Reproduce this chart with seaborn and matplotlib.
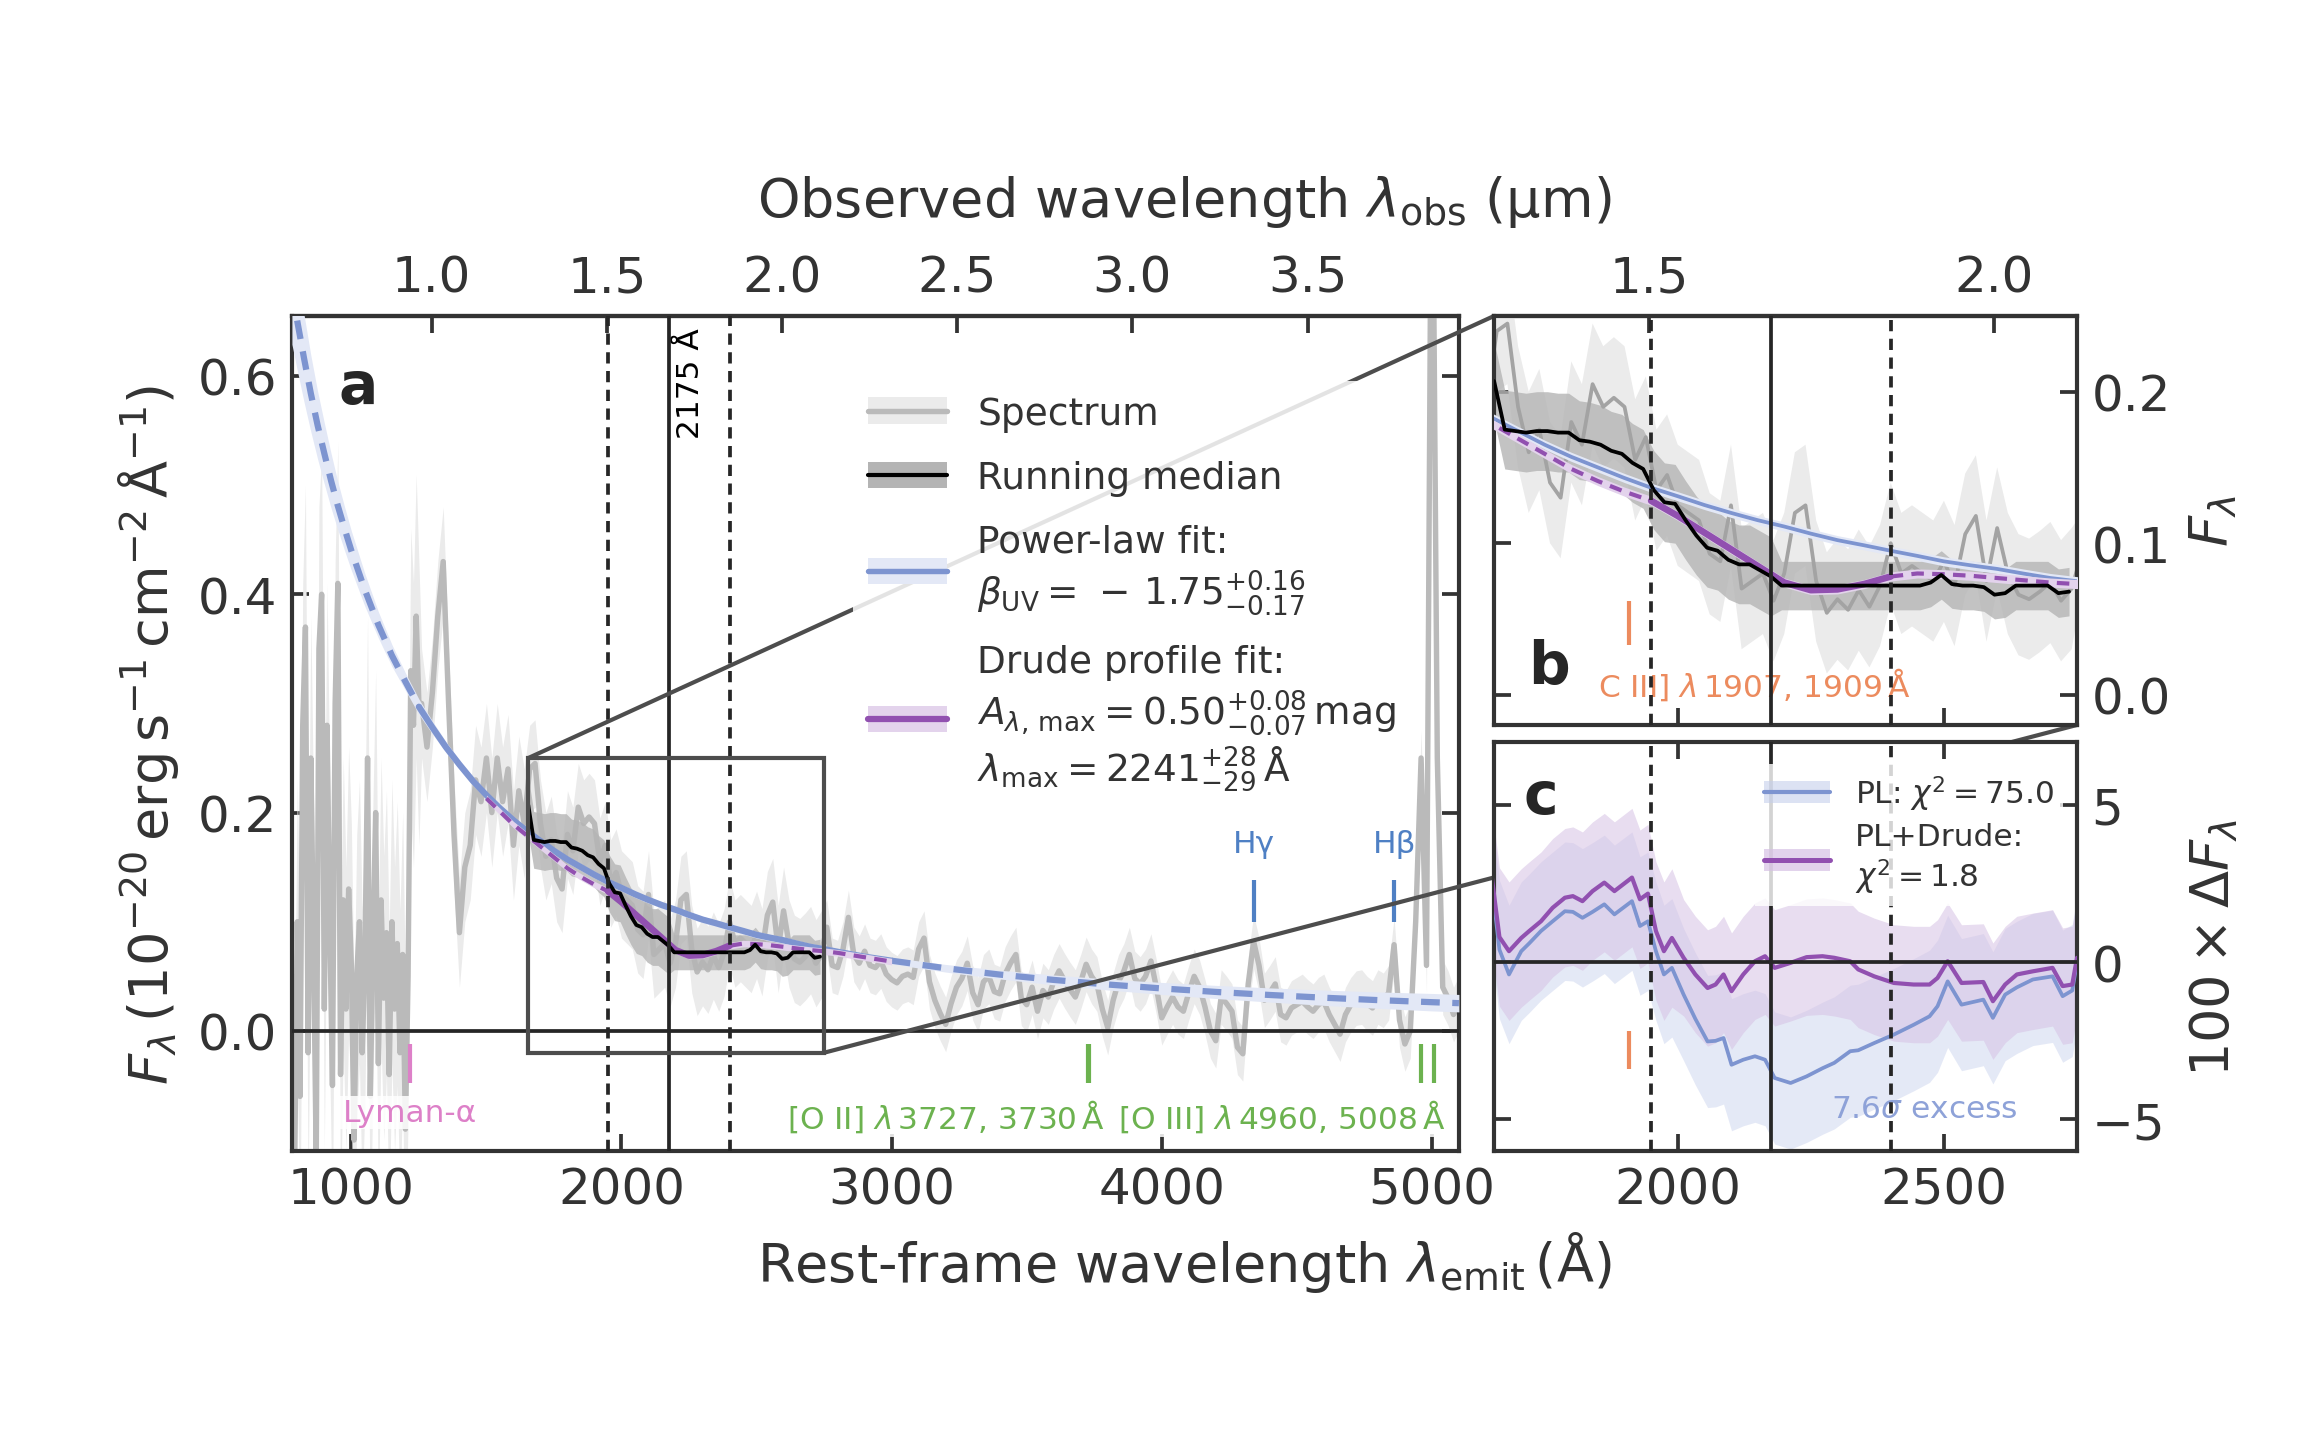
import numpy as np
import matplotlib
matplotlib.use("Agg")
import matplotlib.pyplot as plt
import seaborn as sns
from matplotlib.lines import Line2D
from matplotlib.patches import ConnectionPatch, Patch, Rectangle

Z = 6.71  # redshift used for the observed-frame axis

# --- spectrum, rest frame (Å) and flux (1e-20 erg s-1 cm-2 Å-1)
LYA_WL = np.arange(780, 1251, 10)
LYA_FLUX = [0.05, -0.13, 0.10, -0.06, 0.28, 0.37, -0.02, 0.25, 0.08, -0.12,
            0.35, 0.40, 0.02, 0.28, 0.10, -0.05, 0.30, 0.41, -0.04, 0.12,
            0.02, 0.13, 0.06, -0.10, 0.05, 0.10, -0.02, 0.06, 0.25, -0.06,
            0.08, 0.20, -0.03, 0.12, 0.03, 0.09, -0.04, 0.10, 0.02, 0.08,
            -0.02, 0.07, -0.09, 0.05, 0.33, 0.28, 0.38, 0.30]
LYA_ERR = [0.13] * 48

SPEC_WL = np.arange(1260, 5101, 20)
SPEC_FLUX = [
    # 1260-1640
    0.30, 0.26, 0.31, 0.38, 0.43, 0.30, 0.18, 0.09, 0.15, 0.17,
    0.23, 0.21, 0.25, 0.20, 0.25, 0.21, 0.24, 0.17, 0.22, 0.19,
    # 1660-2740
    0.24, 0.245, 0.19, 0.16, 0.175, 0.14, 0.13, 0.18, 0.165, 0.205,
    0.19, 0.196, 0.19, 0.155, 0.17, 0.135, 0.145, 0.125, 0.12, 0.115,
    0.093, 0.088, 0.125, 0.07, 0.075, 0.08, 0.062, 0.08, 0.12, 0.125,
    0.075, 0.054, 0.063, 0.056, 0.069, 0.058, 0.072, 0.10, 0.08, 0.085,
    0.08, 0.075, 0.088, 0.072, 0.106, 0.118, 0.075, 0.11, 0.08, 0.066,
    0.063, 0.068, 0.074, 0.062, 0.07,
    # 2760-5100
    0.095, 0.06, 0.058, 0.075, 0.104, 0.07, 0.062, 0.073, 0.06, 0.058,
    0.064, 0.052, 0.047, 0.044, 0.05, 0.052, 0.049, 0.075, 0.085, 0.045,
    0.028, 0.016, 0.006, 0.025, 0.04, 0.048, 0.062, 0.035, 0.024, 0.045,
    0.05, 0.036, 0.034, 0.052, 0.062, 0.07, 0.03, 0.024, 0.04, 0.018,
    0.037, 0.031, 0.045, 0.055, 0.046, 0.038, 0.031, 0.045, 0.061, 0.05,
    0.043, 0.02, 0.003, 0.028, 0.045, 0.055, 0.07, 0.048, 0.043, 0.05,
    0.064, 0.04, 0.012, 0.022, 0.031, 0.022, 0.018, 0.035, 0.05, 0.04,
    0.022, 0.0, -0.009, 0.031, 0.025, 0.018, -0.015, -0.021, 0.043, 0.082,
    0.06, 0.028, 0.035, 0.043, 0.015, 0.012, 0.021, 0.024, 0.027, 0.022,
    0.018, 0.024, 0.027, 0.015, 0.006, -0.003, 0.015, 0.024, 0.03, 0.031,
    0.025, 0.021, 0.031, 0.028, 0.035, 0.079, 0.01, -0.012, 0.0, 0.10,
    0.25, 0.06, 0.90, 0.25, 0.04, 0.03, 0.015, 0.025,
]
SPEC_ERR = [0.05] * 20 + [0.04] * 55 + [0.025] * 118

# running median of the spectrum over the bump region
MED_WL = np.arange(1655, 2736, 20)
MED_FLUX = [
    0.207, 0.175, 0.174, 0.173, 0.174, 0.174, 0.173, 0.173, 0.168, 0.167,
    0.165, 0.161, 0.159, 0.153, 0.149, 0.135, 0.127, 0.126, 0.115, 0.105,
    0.097, 0.095, 0.089, 0.086, 0.086, 0.082, 0.078, 0.072, 0.072, 0.072,
    0.072, 0.072, 0.072, 0.072, 0.072, 0.072, 0.072, 0.072, 0.072, 0.072,
    0.072, 0.074, 0.079, 0.073, 0.072, 0.072, 0.071, 0.066, 0.067, 0.072,
    0.072, 0.072, 0.072, 0.067, 0.068,
]
MED_ERR = [0.026] * 27 + [0.016] * 28

# power-law continuum fit
PL_WL = np.array([780, 800, 825, 850, 875, 900, 925, 950, 975, 1000,
                  1050, 1100, 1150, 1200, 1250, 1300, 1350, 1400, 1450, 1500,
                  1550, 1600, 1650, 1700, 1750, 1800, 1850, 1900, 1950, 2000,
                  2050, 2100, 2150, 2200, 2250, 2300, 2350, 2400, 2450, 2500,
                  2550, 2600, 2650, 2700, 2750, 2800, 2900, 3000, 3200, 3400,
                  3600, 3800, 4000, 4200, 4400, 4600, 4800, 5000, 5100])
PL_FLUX = [0.679, 0.650, 0.616, 0.584, 0.555, 0.529, 0.504, 0.481, 0.460, 0.440,
           0.404, 0.372, 0.344, 0.320, 0.297, 0.278, 0.260, 0.244, 0.229, 0.216,
           0.204, 0.193, 0.183, 0.174, 0.165, 0.157, 0.150, 0.143, 0.1366, 0.131,
           0.1252, 0.120, 0.1152, 0.111, 0.1063, 0.102, 0.0986, 0.095, 0.0916, 0.088,
           0.0854, 0.083, 0.0799, 0.077, 0.0749, 0.0725, 0.068, 0.0643, 0.0574, 0.0516,
           0.0467, 0.0425, 0.0389, 0.0357, 0.0329, 0.0304, 0.0282, 0.0263, 0.0254]
PL_ERR = ([0.050, 0.045, 0.040, 0.035, 0.031, 0.028, 0.025, 0.022, 0.020, 0.018,
           0.015, 0.012, 0.010, 0.008, 0.007, 0.006, 0.005, 0.0045, 0.004, 0.0035]
          + [0.003] * 28
          + [0.0035, 0.004, 0.0045, 0.005, 0.0055, 0.006, 0.0065, 0.007, 0.0075, 0.008, 0.008])
PL_FIT_RANGE = (1250, 3000)

# power law x Drude bump fit
DRUDE_WL = np.arange(1500, 3001, 50)
DRUDE_FLUX = [0.213, 0.201, 0.189, 0.179, 0.169, 0.159, 0.149, 0.141, 0.134, 0.128,
              0.118, 0.107, 0.096, 0.085, 0.074, 0.069, 0.0695, 0.073, 0.078, 0.080,
              0.0795, 0.0785, 0.077, 0.0755, 0.074, 0.073, 0.0715, 0.0695, 0.0675, 0.0655,
              0.0635]
DRUDE_ERR = [0.003] * 31

# residuals (100 x (median - model))
RES_WL = [1650, 1665, 1683, 1706, 1721, 1743, 1765, 1788, 1803, 1821,
          1840, 1862, 1881, 1914, 1929, 1944, 1959, 1974, 1989, 2011,
          2033, 2056, 2071, 2086, 2101, 2123, 2145, 2164, 2182, 2212,
          2242, 2272, 2294, 2324, 2339, 2369, 2406, 2443, 2473, 2488,
          2507, 2533, 2574, 2592, 2615, 2637, 2667, 2704, 2723, 2741, 2750]
RES_DRUDE = [2.8, 0.8, 0.35, 0.77, 0.99, 1.3, 1.73, 2.05, 2.1, 1.94,
             2.26, 2.53, 2.26, 2.69, 2.0, 2.18, 0.99, 0.35, 0.77, 0.14,
             -0.39, -0.82, -0.71, -0.39, -0.92, -0.39, 0.03, 0.19, -0.18, -0.02,
             0.16, 0.19, 0.14, 0.03, -0.23, -0.45, -0.66, -0.71, -0.71, -0.5,
             0.03, -0.66, -0.63, -1.24, -0.71, -0.39, -0.29, -0.18, -0.76, -0.71, 0.14]
RES_PL = [2.6, 0.4, -0.39, 0.35, 0.6, 0.99, 1.3, 1.62, 1.6, 1.41,
          1.6, 1.84, 1.52, 1.94, 1.15, 1.3, 0.35, -0.39, -0.18, -1.03,
          -1.8, -2.52, -2.5, -2.41, -3.26, -3.1, -2.99, -3.1, -3.68, -3.84,
          -3.63, -3.37, -3.2, -2.83, -2.8, -2.57, -2.3, -1.99, -1.72, -1.4,
          -0.61, -1.35, -1.19, -1.77, -1.03, -0.8, -0.55, -0.45, -1.08, -0.9, 0.0]
RES_DRUDE_ERR = [2.2] * 19 + [1.85] * 32
RES_PL_ERR = [2.2] * 19 + [2.1] * 32

BUMP_CENTRE = 2175
BUMP_EDGES = [1950, 2400]
ZOOM_X = (1655, 2750)
ZOOM_Y = (-0.02, 0.25)

LYA = [1216]
OII = [3727, 3730]
OIII = [4960, 5008]
BALMER = [4341, 4861]
CIII = [1908]

# colours
SPEC_C, SPEC_C_B, SPEC_BAND = "#bababa", "#a3a3a3", "#ebebeb"
MED_BAND = "#b4b4b4"
PL_C, PL_BAND = "#7d94d0", "#e3e8f6"
DR_C, DR_BAND = "#9150b0", "#e3d3ec"
ORANGE, GREEN, PINK = "#ec8b5e", "#6cb24f", "#dd80c8"
H_BLUE, EXC_BLUE = "#4f80c4", "#8ea2d8"
INK = "0.15"
LAB_FS = 7.5

sns.set_style("ticks")
plt.rcParams.update({
    "font.family": ["DejaVu Sans"],
    "mathtext.fontset": "dejavusans",
    "font.size": 12,
    "axes.linewidth": 1.0,
    "axes.edgecolor": "0.2",
    "text.color": "0.2",
    "axes.labelcolor": "0.2",
    "xtick.color": "0.2",
    "ytick.color": "0.2",
    "xtick.direction": "in",
    "ytick.direction": "in",
    "xtick.major.size": 4,
    "ytick.major.size": 4,
    "xtick.major.width": 0.9,
    "ytick.major.width": 0.9,
    "xtick.labelsize": 12,
    "ytick.labelsize": 12,
    "legend.fontsize": 9,
})


def to_obs(w):
    return w * (1 + Z) / 1e4


def to_rest(o):
    return o * 1e4 / (1 + Z)


def line(ax, x, y, **kw):
    sns.lineplot(x=np.asarray(x, float), y=np.asarray(y, float), ax=ax,
                 estimator=None, sort=False, legend=False, **kw)


def band(ax, x, y, err, color, **kw):
    y, err = np.asarray(y, float), np.asarray(err, float)
    ax.fill_between(x, y - err, y + err, color=color, lw=0, **kw)


spec_wl = np.concatenate([LYA_WL, SPEC_WL])
spec_fl = np.array(LYA_FLUX + SPEC_FLUX)
spec_err = np.array(LYA_ERR + SPEC_ERR)
pl_fl = np.array(PL_FLUX)
dr_fl = np.array(DRUDE_FLUX)


def draw_models(ax, zoom):
    lw_pl = 0.9 if zoom else 1.5
    band(ax, PL_WL, PL_FLUX, PL_ERR, PL_BAND, zorder=3)
    lo, hi = PL_FIT_RANGE
    m_in = (PL_WL >= lo) & (PL_WL <= hi)
    line(ax, PL_WL[m_in], pl_fl[m_in], color=PL_C, lw=lw_pl, zorder=3.2)
    for m in (PL_WL <= lo, PL_WL >= hi):
        line(ax, PL_WL[m], pl_fl[m], color=PL_C, lw=1.5,
             linestyle=(0, (3, 2)), zorder=3.2)
    band(ax, DRUDE_WL, DRUDE_FLUX, DRUDE_ERR, DR_BAND, zorder=3.3)
    e0, e1 = BUMP_EDGES
    m_in = (DRUDE_WL >= e0) & (DRUDE_WL <= e1)
    line(ax, DRUDE_WL[m_in], dr_fl[m_in], color=DR_C, lw=1.6, zorder=3.5)
    for m in (DRUDE_WL <= e0, DRUDE_WL >= e1):
        line(ax, DRUDE_WL[m], dr_fl[m], color=DR_C, lw=1.0,
             linestyle=(0, (3, 2)), zorder=3.5)


def draw_bump_lines(ax):
    for w in BUMP_EDGES:
        ax.axvline(w, color=INK, lw=0.9, linestyle=(0, (3, 2)), zorder=4.5)
    ax.axvline(BUMP_CENTRE, color=INK, lw=0.9, zorder=4.5)


fig = plt.figure(figsize=(2315 / 300, 1431 / 300), dpi=300)
ax_a = fig.add_axes([0.1261, 0.1950, 0.5041, 0.5835])
ax_b = fig.add_axes([0.6454, 0.4927, 0.2518, 0.2858])
ax_c = fig.add_axes([0.6454, 0.1950, 0.2518, 0.2858])

# ---------------- panel a
band(ax_a, spec_wl, spec_fl, spec_err, SPEC_BAND, zorder=1)
line(ax_a, spec_wl, spec_fl, color=SPEC_C, lw=1.3, zorder=2)
band(ax_a, MED_WL, MED_FLUX, MED_ERR, MED_BAND, alpha=0.8, zorder=2.2)
draw_models(ax_a, zoom=False)
line(ax_a, MED_WL, MED_FLUX, color="k", lw=0.9, zorder=3.8)
draw_bump_lines(ax_a)
ax_a.axhline(0, color=INK, lw=0.9, zorder=4.5)
ax_a.add_patch(Rectangle((ZOOM_X[0], ZOOM_Y[0]), ZOOM_X[1] - ZOOM_X[0],
                         ZOOM_Y[1] - ZOOM_Y[0], fill=False, ec="0.3", lw=1.0, zorder=4.6))
ax_a.text(BUMP_CENTRE + 25, 0.645, "2175 Å", rotation=90, ha="left", va="top",
          fontsize=LAB_FS, color="k")

lab_box = dict(fc="white", ec="none", alpha=0.85, pad=0.5)
ax_a.vlines(LYA, -0.012, -0.048, color=PINK, lw=1.0, zorder=4)
ax_a.text(LYA[0], -0.075, "Lyman-α", color=PINK, fontsize=LAB_FS, ha="center",
          va="center", bbox=lab_box, zorder=4)
ax_a.vlines(OII + OIII, -0.012, -0.048, color=GREEN, lw=1.0, zorder=4)
ax_a.text(3790, -0.078, r"[O II] $\lambda\,$3727, 3730$\,$Å", color=GREEN,
          fontsize=LAB_FS, ha="right", va="center", bbox=lab_box, zorder=4)
ax_a.text(5050, -0.078, r"[O III] $\lambda\,$4960, 5008$\,$Å", color=GREEN,
          fontsize=LAB_FS, ha="right", va="center", bbox=lab_box, zorder=4)
ax_a.vlines(BALMER, 0.100, 0.138, color=H_BLUE, lw=1.0, zorder=4)
for w, name in zip(BALMER, ["Hγ", "Hβ"]):
    ax_a.text(w, 0.172, name, color=H_BLUE, fontsize=LAB_FS, ha="center", va="center")

ax_a.set_xlim(780, 5100)
ax_a.set_ylim(-0.11, 0.655)
ax_a.set_xticks([1000, 2000, 3000, 4000, 5000])
ax_a.set_yticks([0.0, 0.2, 0.4, 0.6])
ax_a.tick_params(right=True, top=False)
ax_a.set_ylabel(r"$F_\lambda\,(10^{-20}\,\mathrm{erg\,s^{-1}\,cm^{-2}\,\AA^{-1}})$", fontsize=13)
ax_a.set_xlabel("")
sec_a = ax_a.secondary_xaxis("top", functions=(to_obs, to_rest))
sec_a.set_xticks([1.0, 1.5, 2.0, 2.5, 3.0, 3.5])
sec_a.tick_params(direction="in", length=4)
ax_a.text(0.04, 0.915, "a", transform=ax_a.transAxes, fontsize=14,
          fontweight="bold", ha="left", va="center", color="0.15")

handles = [
    (Patch(fc=SPEC_BAND, ec="none"), Line2D([], [], color=SPEC_C, lw=1.3)),
    (Patch(fc=MED_BAND, ec="none"), Line2D([], [], color="k", lw=1.0)),
    (Patch(fc=PL_BAND, ec="none"), Line2D([], [], color=PL_C, lw=1.3)),
    (Patch(fc=DR_BAND, ec="none"), Line2D([], [], color=DR_C, lw=1.5)),
]
labels = [
    "Spectrum",
    "Running median",
    "Power-law fit:\n" + r"$\beta_\mathrm{UV} =\,-\,1.75^{+0.16}_{-0.17}$",
    "Drude profile fit:\n" + r"$A_{\lambda,\,\mathrm{max}} = 0.50^{+0.08}_{-0.07}\,\mathrm{mag}$"
    + "\n" + r"$\lambda_\mathrm{max} = 2241^{+28}_{-29}\,\mathrm{\AA}$",
]
leg = ax_a.legend(handles, labels, loc="upper left", bbox_to_anchor=(0.465, 0.945),
                  frameon=True, framealpha=0.85, edgecolor="none", facecolor="white",
                  handlelength=2.1, borderpad=0.4, labelspacing=0.75, fancybox=False)
leg.set_zorder(6)

# zoom connectors (drawn in panel a, below its legend)
for xy_a, xy_b in [((ZOOM_X[0], ZOOM_Y[1]), (0, 1)), ((ZOOM_X[1], ZOOM_Y[0]), (1, 0))]:
    con = ConnectionPatch(xyA=xy_a, coordsA=ax_a.transData, xyB=xy_b,
                          coordsB=ax_b.transAxes, color="0.3", lw=1.0, zorder=4.6)
    ax_a.add_artist(con)
    con.set_clip_on(False)

# ---------------- panel b
band(ax_b, spec_wl, spec_fl, spec_err, SPEC_BAND, zorder=1)
band(ax_b, MED_WL, MED_FLUX, MED_ERR, MED_BAND, alpha=0.8, zorder=1.5)
line(ax_b, spec_wl, spec_fl, color=SPEC_C_B, lw=0.9, zorder=2)
draw_models(ax_b, zoom=True)
line(ax_b, MED_WL, MED_FLUX, color="k", lw=0.9, zorder=3.8)
draw_bump_lines(ax_b)
ax_b.vlines(CIII, 0.033, 0.062, color=ORANGE, lw=1.0, zorder=4)
ax_b.text(1850, 0.007, r"C III] $\lambda\,$1907, 1909$\,$Å", color=ORANGE,
          fontsize=LAB_FS, ha="left", va="center", zorder=4)
ax_b.set_xlim(*ZOOM_X)
ax_b.set_ylim(*ZOOM_Y)
ax_b.set_xticks([2000, 2500])
ax_b.set_yticks([0.0, 0.1, 0.2])
ax_b.tick_params(top=False, right=True, left=True, labelbottom=False,
                 labelleft=False, labelright=True)
ax_b.yaxis.set_label_position("right")
ax_b.set_ylabel(r"$F_\lambda$", fontsize=13)
ax_b.yaxis.set_label_coords(1.19, 0.5)
ax_b.set_xlabel("")
sec_b = ax_b.secondary_xaxis("top", functions=(to_obs, to_rest))
sec_b.set_xticks([1.5, 2.0])
sec_b.tick_params(direction="in", length=4)
ax_b.text(0.058, 0.144, "b", transform=ax_b.transAxes, fontsize=14,
          fontweight="bold", ha="left", va="center", color="0.15")

# ---------------- panel c
band(ax_c, RES_WL, RES_PL, RES_PL_ERR, "#c5cfec", alpha=0.45, zorder=1)
band(ax_c, RES_WL, RES_DRUDE, RES_DRUDE_ERR, "#d6c1e4", alpha=0.55, zorder=1.2)
line(ax_c, RES_WL, RES_PL, color=PL_C, lw=0.9, zorder=3)
line(ax_c, RES_WL, RES_DRUDE, color=DR_C, lw=1.0, zorder=3.2)
draw_bump_lines(ax_c)
ax_c.axhline(0, color=INK, lw=0.9, zorder=4.5)
ax_c.vlines(CIII, -3.4, -2.2, color=ORANGE, lw=1.0, zorder=4)
ax_c.text(2463, -4.65, r"7.6$\sigma$ excess", color=EXC_BLUE, fontsize=LAB_FS,
          ha="center", va="center", zorder=4)
ax_c.set_xlim(*ZOOM_X)
ax_c.set_ylim(-6, 7)
ax_c.set_xticks([2000, 2500])
ax_c.set_yticks([-5, 0, 5])
ax_c.tick_params(top=True, right=True, left=True, labelleft=False, labelright=True)
ax_c.yaxis.set_label_position("right")
ax_c.set_ylabel(r"$100 \times \Delta F_\lambda$", fontsize=13)
ax_c.yaxis.set_label_coords(1.19, 0.5)
ax_c.set_xlabel("")
ax_c.text(0.05, 0.866, "c", transform=ax_c.transAxes, fontsize=14,
          fontweight="bold", ha="left", va="center", color="0.15")
res_handles = [
    (Patch(fc="#c5cfec", ec="none", alpha=0.6), Line2D([], [], color=PL_C, lw=1.0)),
    (Patch(fc="#d6c1e4", ec="none", alpha=0.7), Line2D([], [], color=DR_C, lw=1.2)),
]
res_labels = [r"PL: $\chi^2 = 75.0$", "PL+Drude:\n" + r"$\chi^2 = 1.8$"]
leg_c = ax_c.legend(res_handles, res_labels, loc="upper left", bbox_to_anchor=(0.42, 0.985),
                    frameon=True, framealpha=0.8, edgecolor="none", facecolor="white",
                    fontsize=7.5, handlelength=2.1, borderpad=0.3, labelspacing=0.3,
                    fancybox=False)
leg_c.set_zorder(6)

fig.text(0.5115, 0.118, r"Rest-frame wavelength $\lambda_\mathrm{emit}\,(\mathrm{\AA})$",
         ha="center", va="center", fontsize=13)
fig.text(0.5115, 0.859, r"Observed wavelength $\lambda_\mathrm{obs}$ (µm)",
         ha="center", va="center", fontsize=13)

fig.savefig("out.png", dpi=300)
